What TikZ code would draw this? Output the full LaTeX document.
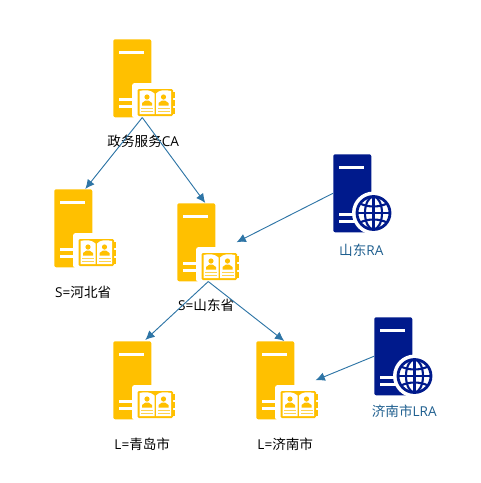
\documentclass[tikz,border=0pt]{standalone}
\usepackage{fontspec}
\setmainfont{Open Sans}
\newfontfamily\cjk{Noto Sans CJK SC}
\usetikzlibrary{arrows.meta, positioning, calc}

\definecolor{cagold}{HTML}{FFC000}
\definecolor{ranavy}{HTML}{001A8C}
\definecolor{linkblue}{HTML}{2E75A6}
\definecolor{ralabel}{HTML}{1F5F8F}

\tikzset{
    slots/.pic={
        \fill [white] (6,12) rectangle (31,15);
        \fill [white] (6,59) rectangle (22,62);
        \fill [white] (6,66) rectangle (22,69);
    },
    bookicon/.pic={
        \fill [white, rounded corners=2pt] (19,44) rectangle (62,79);
        % cover and tabs
        \fill [cagold] (58,53) rectangle (61.5,59);
        \fill [cagold] (58,61) rectangle (61.5,67);
        \fill [cagold] (58,69) rectangle (61.5,75);
        \fill [cagold, rounded corners=1pt] (24.5,50) rectangle (60,77);
        % pages
        \fill [white] (26.5,52) .. controls (32,50.5) and (38,51) .. (41.5,54.5) -- (41.5,75) -- (26.5,75) -- cycle;
        \fill [white] (58,52) .. controls (52,50.5) and (46,51) .. (43,54.5) -- (43,75) -- (58,75) -- cycle;
        \foreach \xc in {34, 50.5} {
            \fill [cagold] (\xc,58) circle (2.6);
            \fill [cagold] (\xc-5,66.5) -- (\xc-5,64) -- (\xc-1.5,61.5) -- (\xc+1.5,61.5) -- (\xc+5,64) -- (\xc+5,66.5) -- cycle;
            \fill [cagold!70!white] (\xc-6,68.5) rectangle (\xc+6,69.5);
            \fill [cagold!70!white] (\xc-6,71.5) rectangle (\xc+6,72.5);
        }
    },
    globeicon/.pic={
        \fill [white] (40.5,59) circle (21.5);
        \draw [ranavy, line width=2.1pt] (40.5,59) circle (16.5);
        \draw [ranavy, line width=1.6pt] (40.5,59) ellipse (8.5 and 16.5);
        \draw [ranavy, line width=1.6pt] (40.5,42.5) -- (40.5,75.5);
        \draw [ranavy, line width=1.6pt] (24,59) -- (57,59);
        \draw [ranavy, line width=1.6pt] (27,49.5) .. controls (35,53.5) and (46,53.5) .. (54,49.5);
        \draw [ranavy, line width=1.6pt] (27,68.5) .. controls (35,64.5) and (46,64.5) .. (54,68.5);
    }
}

\begin{document}
\begin{tikzpicture}[
    x=0.75pt,
    y=-0.75pt,
    node distance=12pt,
    casrv/.style={
        rectangle,
        fill=cagold,
        inner sep=0pt,
        minimum width=28.5pt,
        minimum height=58.5pt,
        rounded corners=1.5pt,
        anchor=north west
    },
    rasrv/.style={casrv, fill=ranavy},
    lbl/.style={font=\fontsize{10.2}{12}\selectfont, text=black, inner sep=0pt},
    ralbl/.style={lbl, text=ralabel},
    line/.style={draw=linkblue, -{Latex[length=7pt, width=6.5pt]}, line width=0.7pt}
]
    \useasboundingbox (0,0) rectangle (480,483);

    \node [casrv] (ca) at (113,39) {};
    \node [casrv] (hebei) at (54,189) {};
    \node [casrv] (shandong) at (177,203) {};
    \node [casrv] (qingdao) at (113,341) {};
    \node [casrv] (jinan) at (256,341) {};
    \node [rasrv] (sdra) at (333,154) {};
    \node [rasrv] (jnlra) at (374,317) {};

    \foreach \srv in {ca, hebei, shandong, qingdao, jinan} {
        \pic at (\srv.north west) {slots};
        \pic at (\srv.north west) {bookicon};
    }
    \foreach \srv in {sdra, jnlra} {
        \pic at (\srv.north west) {slots};
        \pic at (\srv.north west) {globeicon};
    }

    \node [lbl] (calabel) at ($(ca.south)+(11,24)$) {{\cjk 政务服务}CA};
    \node [lbl] (hebeilabel) at ($(hebei.south)+(10,25)$) {S={\cjk 河北省}};
    \node [lbl] (shandonglabel) at ($(shandong.south)+(10,24)$) {S={\cjk 山东省}};
    \node [lbl] (qingdaolabel) at ($(qingdao.south)+(10,25)$) {L={\cjk 青岛市}};
    \node [lbl] (jinanlabel) at ($(jinan.south)+(10,25)$) {L={\cjk 济南市}};
    \node [ralbl] (sdralabel) at ($(sdra.south)+(9,18)$) {{\cjk 山东}RA};
    \node [ralbl] (jnlralabel) at ($(jnlra.south)+(11,16)$) {{\cjk 济南市}LRA};

    \path [line] ($(ca.south)+(10,0)$) -- ($(hebei.north)+(12,0)$);
    \path [line] ($(ca.south)+(10,0)$) -- ($(shandong.north)+(9,0)$);
    \path [line] ($(shandong.south)+(12,0)$) -- ($(qingdao.north)+(13,-1)$);
    \path [line] ($(shandong.south)+(12,0)$) -- ($(jinan.north)+(9,0)$);
    \path [line] (sdra.west) -- ($(shandong.east)+(21,0)$);
    \path [line] (jnlra.west) -- ($(jinan.east)+(21,0)$);
\end{tikzpicture}
\end{document}
